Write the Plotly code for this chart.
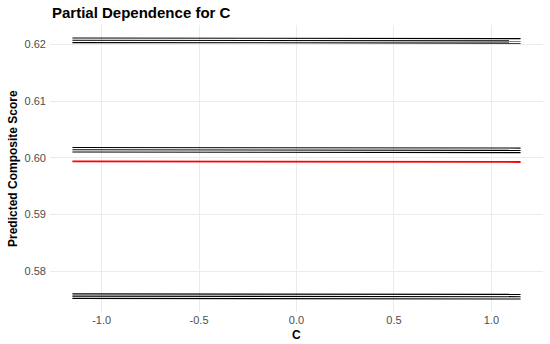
import plotly.graph_objects as go

# Data
c_grid = [-1.15, 1.15]
ice_start = [0.6211, 0.6207, 0.6203, 0.6018, 0.6014, 0.6010, 0.5760, 0.5756, 0.5752]
ice_end   = [0.6210, 0.6206, 0.6202, 0.6017, 0.6013, 0.6009, 0.5759, 0.5755, 0.5751]
pd_values = [0.59935, 0.59925]
x_ticks = [-1.0, -0.5, 0.0, 0.5, 1.0]
x_tick_labels = ["-1.0", "-0.5", "0.0", "0.5", "1.0"]
y_ticks = [0.58, 0.59, 0.60, 0.61, 0.62]
y_tick_labels = ["0.58", "0.59", "0.60", "0.61", "0.62"]

fig = go.Figure()
for s, e in zip(ice_start, ice_end):
    fig.add_trace(go.Scatter(x=c_grid, y=[s, e], mode="lines",
                             line=dict(color="black", width=1.1),
                             showlegend=False, hoverinfo="skip"))
fig.add_trace(go.Scatter(x=c_grid, y=pd_values, mode="lines",
                         line=dict(color="red", width=1.8),
                         showlegend=False))

xmin, xmax = min(c_grid), max(c_grid)
allv = ice_start + ice_end + pd_values
ymin, ymax = min(allv), max(allv)
xpad = (xmax - xmin) * 0.05
ypad = (ymax - ymin) * 0.05

font = "Liberation Sans, Arial, sans-serif"
fig.update_layout(
    width=550, height=344,
    margin=dict(l=50, r=7, t=25, b=32, autoexpand=False),
    plot_bgcolor="white", paper_bgcolor="white",
    font=dict(family=font),
    xaxis=dict(range=[xmin - xpad, xmax + xpad], tickvals=x_ticks, ticktext=x_tick_labels,
               showgrid=True, gridcolor="#EBEBEB", gridwidth=1.1, zeroline=False,
               showline=False, ticks="", tickfont=dict(size=11, color="#4D4D4D"),
               automargin=False),
    yaxis=dict(range=[ymin - ypad, ymax + ypad], tickvals=y_ticks, ticktext=y_tick_labels,
               showgrid=True, gridcolor="#EBEBEB", gridwidth=1.1, zeroline=False,
               showline=False, ticks="", tickfont=dict(size=11, color="#4D4D4D"),
               automargin=False, ticklabelstandoff=3),
    annotations=[
        dict(text="<b>Partial Dependence for C</b>", xref="paper", yref="paper",
             x=0, y=1, xanchor="left", yanchor="middle", yshift=12.5, showarrow=False,
             font=dict(size=15, color="black", family=font)),
        dict(text="<b>Predicted Composite Score</b>", xref="paper", yref="paper",
             x=0, y=0.5, xanchor="center", yanchor="middle", xshift=-37.5, textangle=-90,
             showarrow=False, font=dict(size=12, color="black", family=font)),
        dict(text="<b>C</b>", xref="paper", yref="paper",
             x=0.5, y=0, xanchor="center", yanchor="middle", yshift=-23,
             showarrow=False, font=dict(size=12, color="black", family=font)),
    ],
)
fig.write_html("out.html", config={"displayModeBar": False},
               post_script="document.body.style.margin='0';document.body.style.overflow='hidden';")
